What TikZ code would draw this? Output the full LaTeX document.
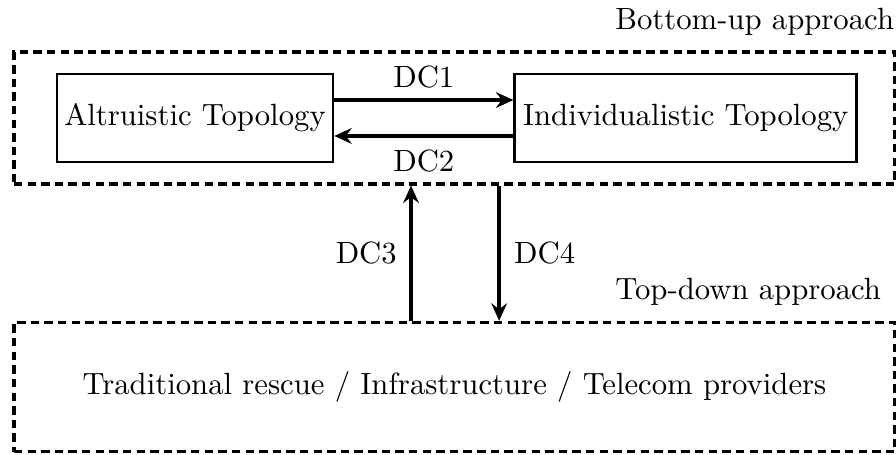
\documentclass[tikz,border=0pt]{standalone}
\usetikzlibrary{arrows.meta,positioning}
\tikzset{
  topo/.style   = {draw, rectangle, line width=0.9pt, minimum height=30.4pt,
                   align=center, inner sep=2pt},
  group/.style  = {draw, rectangle, line width=1.1pt,
                   dash pattern=on 2.9pt off 1.8pt,
                   minimum width=304pt, minimum height=45.5pt},
  approach/.style = {anchor=south east, inner sep=0pt},
  link/.style   = {-{Stealth[length=6pt,width=5.4pt,inset=2pt]}, line width=1.15pt}
}

\begin{document}
\begin{tikzpicture}[x=0.345pt, y=-0.345pt,
  every node/.style={font=\fontsize{10.6pt}{12.7pt}\selectfont}]

\useasboundingbox (0,0) rectangle (896,455);

% bottom-up part
\node[group] (bu) at (454.5,118) {};
\node[topo, minimum width=95.2pt] (alt) at (195,118) {Altruistic Topology};
\node[topo, right=61.8pt of alt, minimum width=118pt] (ind) {Individualistic Topology};
\node[approach] (bulabel) at ([xshift=-0.7pt, yshift=5pt]bu.north east) {Bottom-up approach};

% top-down part
\node[group, minimum height=44.6pt] (td) at (454.5,387) {Traditional rescue / Infrastructure / Telecom providers};
\node[approach] (tdlabel) at ([xshift=-5.2pt, yshift=5.2pt]td.north east) {Top-down approach};

% decision links
\draw[link] ([yshift=6.2pt]alt.east) -- ([yshift=6.2pt]ind.west)
  node[midway, above=0.3pt] (dc1) {DC1};
\draw[link] ([yshift=-6.2pt]ind.west) -- ([yshift=-6.2pt]alt.east)
  node[midway, below=1pt] (dc2) {DC2};
\draw[link] ([xshift=-15pt]td.north) -- ([xshift=-15pt]bu.south)
  node[midway, left=1pt] (dc3) {DC3};
\draw[link] ([xshift=15.4pt]bu.south) -- ([xshift=15.4pt]td.north)
  node[midway, right=1.3pt] (dc4) {DC4};
\end{tikzpicture}
\end{document}
